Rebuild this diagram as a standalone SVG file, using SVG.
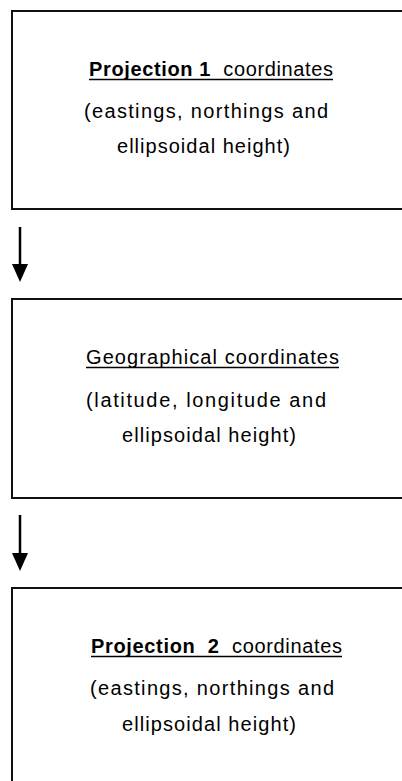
<svg xmlns="http://www.w3.org/2000/svg" width="402" height="781" viewBox="0 0 402 781">
<defs>
<style>
.box{fill:#fff;stroke:#111;stroke-width:2}
.t{font-family:"Liberation Sans",Arial,sans-serif;font-size:20px;fill:#000}
.b{font-weight:bold}
.ul{stroke:#000;stroke-width:1.6}
.conn{stroke:#000;stroke-width:2.5;fill:none}
</style>
</defs>
<rect width="402" height="781" fill="#fff"/>
<g id="node-projection1">
<rect class="box" x="12" y="11" width="400" height="198"/>
<text class="t" x="89" y="76" textLength="244" lengthAdjust="spacing" xml:space="preserve"><tspan class="b">Projection 1</tspan>  coordinates</text>
<line class="ul" x1="89" y1="79.5" x2="333" y2="79.5"/>
<text class="t" x="84" y="118" textLength="244" lengthAdjust="spacing">(eastings, northings and</text>
<text class="t" x="117" y="153" textLength="173" lengthAdjust="spacing">ellipsoidal height)</text>
</g>
<g id="node-geographical">
<rect class="box" x="12" y="299" width="400" height="199"/>
<text class="t" x="86" y="364" textLength="253" lengthAdjust="spacing">Geographical coordinates</text>
<line class="ul" x1="86" y1="367.5" x2="339" y2="367.5"/>
<text class="t" x="86" y="407" textLength="240" lengthAdjust="spacing">(latitude, longitude and</text>
<text class="t" x="122" y="442" textLength="174" lengthAdjust="spacing">ellipsoidal height)</text>
</g>
<g id="node-projection2">
<rect class="box" x="12" y="588" width="400" height="220"/>
<text class="t" x="91" y="653" textLength="251" lengthAdjust="spacing" xml:space="preserve"><tspan class="b">Projection  2</tspan>  coordinates</text>
<line class="ul" x1="91" y1="656.5" x2="342" y2="656.5"/>
<text class="t" x="90" y="695" textLength="244" lengthAdjust="spacing">(eastings, northings and</text>
<text class="t" x="122" y="731" textLength="174" lengthAdjust="spacing">ellipsoidal height)</text>
</g>
<g id="connectors">
<path class="conn" d="M20,227 V264"/>
<path d="M12,264 L28,264 L20,282 Z" fill="#000"/>
<path class="conn" d="M20,515 V553"/>
<path d="M12,553 L28,553 L20,571 Z" fill="#000"/>
</g>
</svg>
